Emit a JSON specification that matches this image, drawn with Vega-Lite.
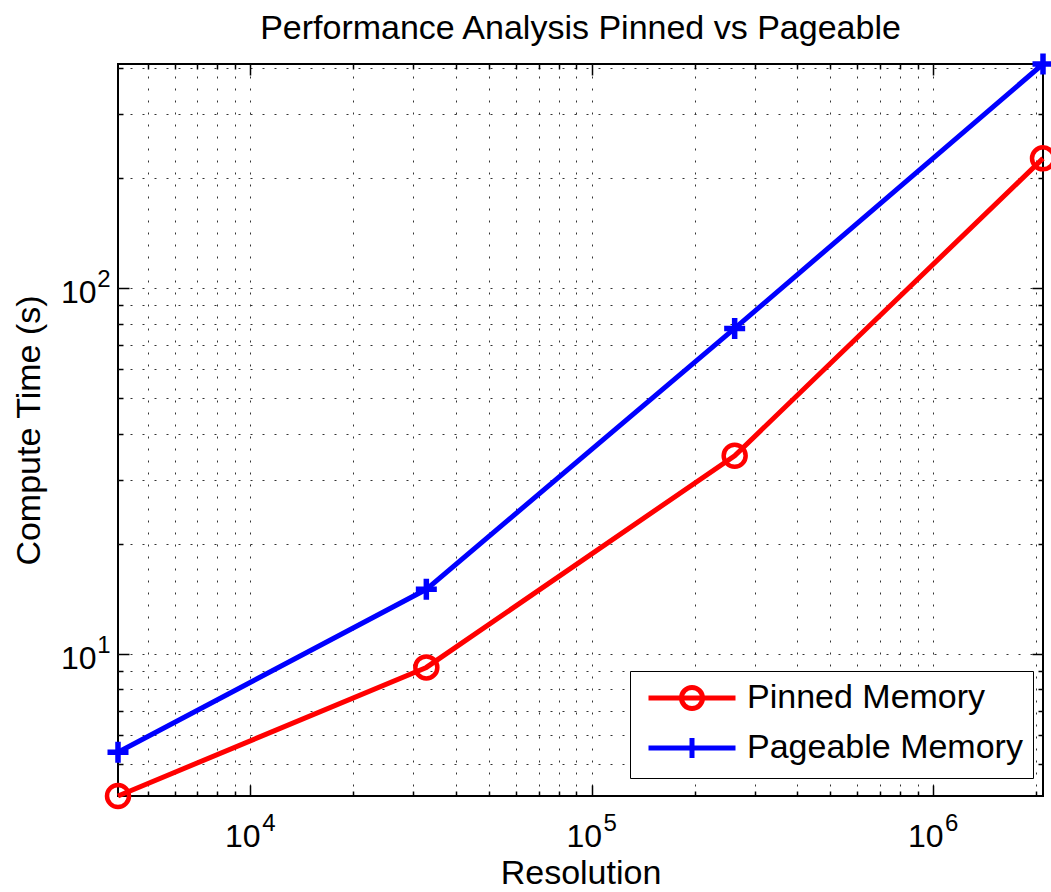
{
  "$schema": "https://vega.github.io/schema/vega-lite/v6.json",
  "width": 925,
  "height": 732,
  "autosize": "none",
  "padding": {"left": 118, "top": 64, "right": 8, "bottom": 96},
  "background": "white",
  "title": {
    "text": "Performance Analysis Pinned vs Pageable",
    "font": "Liberation Sans",
    "fontSize": 34,
    "fontWeight": "normal",
    "color": "black",
    "anchor": "middle",
    "frame": "group",
    "offset": 18,
    "dy": 21
  },
  "data": {
    "values": [
      {"series": "Pinned Memory", "resolution": 4096, "time": 4.09},
      {"series": "Pinned Memory", "resolution": 32768, "time": 9.19},
      {"series": "Pinned Memory", "resolution": 262144, "time": 34.85},
      {"series": "Pinned Memory", "resolution": 2097152, "time": 226.7},
      {"series": "Pageable Memory", "resolution": 4096, "time": 5.385},
      {"series": "Pageable Memory", "resolution": 32768, "time": 15.03},
      {"series": "Pageable Memory", "resolution": 262144, "time": 77.7},
      {"series": "Pageable Memory", "resolution": 2097152, "time": 410.7}
    ]
  },
  "layer": [
    {
      "mark": {"type": "line", "strokeWidth": 5},
      "encoding": {
        "x": {
          "field": "resolution", "type": "quantitative",
          "scale": {"type": "log", "nice": false},
          "axis": {
            "orient": "bottom", "title": "Resolution",
            "grid": true, "gridDash": [2, 10], "gridColor": "#333333", "gridWidth": 1,
            "ticks": false, "domain": false,
            "labelExpr": "abs(log(datum.value)/LN10 - round(log(datum.value)/LN10)) < 0.001 ? '10' : ''",
            "labelFont": "Liberation Sans", "labelFontSize": 32, "labelColor": "black",
            "labelAlign": "center", "labelOffset": -8,
            "labelBaseline": "alphabetic", "labelPadding": 50, "labelOverlap": false, "labelFlush": false,
            "titleFont": "Liberation Sans", "titleFontSize": 34, "titleFontWeight": "normal", "titleColor": "black",
            "titleBaseline": "alphabetic", "titlePadding": 31
          }
        },
        "y": {
          "field": "time", "type": "quantitative",
          "scale": {"type": "log", "nice": false},
          "axis": {
            "orient": "left", "title": "Compute Time (s)",
            "grid": true, "gridDash": [2, 10], "gridColor": "#333333", "gridWidth": 1,
            "ticks": false, "domain": false,
            "labelExpr": "abs(log(datum.value)/LN10 - round(log(datum.value)/LN10)) < 0.001 ? '10' : ''",
            "labelFont": "Liberation Sans", "labelFontSize": 32, "labelColor": "black",
            "labelBaseline": "alphabetic", "labelOffset": 14, "labelAlign": "right", "labelPadding": 22,
            "labelOverlap": false, "labelFlush": false,
            "titleFont": "Liberation Sans", "titleFontSize": 34, "titleFontWeight": "normal", "titleColor": "black",
            "titlePadding": 14
          }
        },
        "color": {
          "field": "series", "type": "nominal",
          "scale": {"domain": ["Pinned Memory", "Pageable Memory"], "range": ["#ff0000", "#0000ff"]},
          "legend": null
        }
      }
    },
    {
      "transform": [{"filter": "datum.series === 'Pinned Memory'"}],
      "mark": {"type": "point", "shape": "circle", "filled": false, "size": 484, "strokeWidth": 4.5, "opacity": 1},
      "encoding": {
        "x": {
          "field": "resolution", "type": "quantitative",
          "scale": {"type": "log", "nice": false},
          "axis": {
            "orient": "top", "title": null, "labels": false, "grid": false, "domain": false,
            "ticks": true, "tickColor": "black", "tickWidth": 1.5,
            "tickSize": {"condition": {"test": "abs(log(datum.value)/LN10 - round(log(datum.value)/LN10)) < 0.001", "value": -11}, "value": -5}
          }
        },
        "y": {
          "field": "time", "type": "quantitative",
          "scale": {"type": "log", "nice": false},
          "axis": {
            "orient": "right", "title": null, "labels": false, "grid": false, "domain": false,
            "ticks": true, "tickColor": "black", "tickWidth": 1.5,
            "tickSize": {"condition": {"test": "abs(log(datum.value)/LN10 - round(log(datum.value)/LN10)) < 0.001", "value": -11}, "value": -5}
          }
        },
        "color": {
          "field": "series", "type": "nominal",
          "scale": {"domain": ["Pinned Memory", "Pageable Memory"], "range": ["#ff0000", "#0000ff"]},
          "legend": null
        }
      }
    },
    {
      "transform": [{"filter": "datum.series === 'Pageable Memory'"}],
      "mark": {"type": "point", "shape": "M-1,0L1,0M0,-1L0,1", "filled": false, "size": 441, "strokeWidth": 5.5, "opacity": 1},
      "encoding": {
        "x": {
          "field": "resolution", "type": "quantitative",
          "scale": {"type": "log", "nice": false},
          "axis": {
            "orient": "bottom", "title": null, "grid": false, "domain": false, "ticks": false,
            "labelExpr": "abs(log(datum.value)/LN10 - round(log(datum.value)/LN10)) < 0.001 ? toString(round(log(datum.value)/LN10)) : ''",
            "labelFont": "Liberation Sans", "labelFontSize": 24, "labelColor": "black",
            "labelAlign": "center", "labelOffset": 18,
            "labelBaseline": "alphabetic", "labelPadding": 34, "labelOverlap": false, "labelFlush": false
          }
        },
        "y": {
          "field": "time", "type": "quantitative",
          "scale": {"type": "log", "nice": false},
          "axis": {
            "orient": "left", "title": null, "grid": false, "domain": false, "ticks": false,
            "labelExpr": "abs(log(datum.value)/LN10 - round(log(datum.value)/LN10)) < 0.001 ? toString(round(log(datum.value)/LN10)) : ''",
            "labelFont": "Liberation Sans", "labelFontSize": 24, "labelColor": "black",
            "labelAlign": "right", "labelBaseline": "alphabetic", "labelOffset": -2, "labelPadding": 8,
            "labelOverlap": false, "labelFlush": false
          }
        },
        "color": {
          "field": "series", "type": "nominal",
          "scale": {"domain": ["Pinned Memory", "Pageable Memory"], "range": ["#ff0000", "#0000ff"]},
          "legend": null
        }
      }
    },
    {
      "mark": {"type": "point", "filled": false, "size": 400, "strokeWidth": 5, "opacity": 0},
      "encoding": {
        "x": {
          "field": "resolution", "type": "quantitative",
          "scale": {"type": "log", "nice": false},
          "axis": {
            "orient": "bottom", "title": null, "labels": false, "grid": false, "domain": false,
            "ticks": true, "tickColor": "black", "tickWidth": 1.5,
            "tickSize": {"condition": {"test": "abs(log(datum.value)/LN10 - round(log(datum.value)/LN10)) < 0.001", "value": -11}, "value": -5}
          }
        },
        "y": {
          "field": "time", "type": "quantitative",
          "scale": {"type": "log", "nice": false},
          "axis": {
            "orient": "left", "title": null, "labels": false, "grid": false, "domain": false,
            "ticks": true, "tickColor": "black", "tickWidth": 1.5,
            "tickSize": {"condition": {"test": "abs(log(datum.value)/LN10 - round(log(datum.value)/LN10)) < 0.001", "value": -11}, "value": -5}
          }
        },
        "color": {
          "field": "series", "type": "nominal",
          "scale": {"domain": ["Pinned Memory", "Pageable Memory"], "range": ["#ff0000", "#0000ff"]},
          "legend": {
            "title": null, "orient": "none", "legendX": 512, "legendY": 607,
            "labelFont": "Liberation Sans", "labelFontSize": 34, "labelColor": "black", "labelLimit": 600,
            "symbolSize": 400, "symbolStrokeWidth": 5, "symbolOpacity": 1, "symbolOffset": 35, "labelOffset": 38,
            "padding": 10, "rowPadding": 9,
            "strokeColor": "black", "fillColor": "white"
          }
        },
        "shape": {
          "field": "series", "type": "nominal",
          "scale": {
            "domain": ["Pinned Memory", "Pageable Memory"],
            "range": [
              "M-4.35,0L4.35,0M-1.05,0A1.05,1.05,0,1,1,1.05,0A1.05,1.05,0,1,1,-1.05,0",
              "M-4.35,0L4.35,0M0,-1L0,1"
            ]
          },
          "legend": {
            "title": null, "orient": "none", "legendX": 512, "legendY": 607,
            "labelFont": "Liberation Sans", "labelFontSize": 34, "labelColor": "black", "labelLimit": 600,
            "symbolSize": 400, "symbolStrokeWidth": 5, "symbolOpacity": 1, "symbolOffset": 35, "labelOffset": 38,
            "padding": 10, "rowPadding": 9,
            "strokeColor": "black", "fillColor": "white"
          }
        }
      }
    }
  ],
  "resolve": {
    "axis": {"x": "independent", "y": "independent"},
    "scale": {"color": "independent", "shape": "independent"},
    "legend": {"color": "independent", "shape": "independent"}
  },
  "config": {
    "view": {"stroke": "black", "strokeWidth": 2},
    "font": "Liberation Sans"
  }
}
